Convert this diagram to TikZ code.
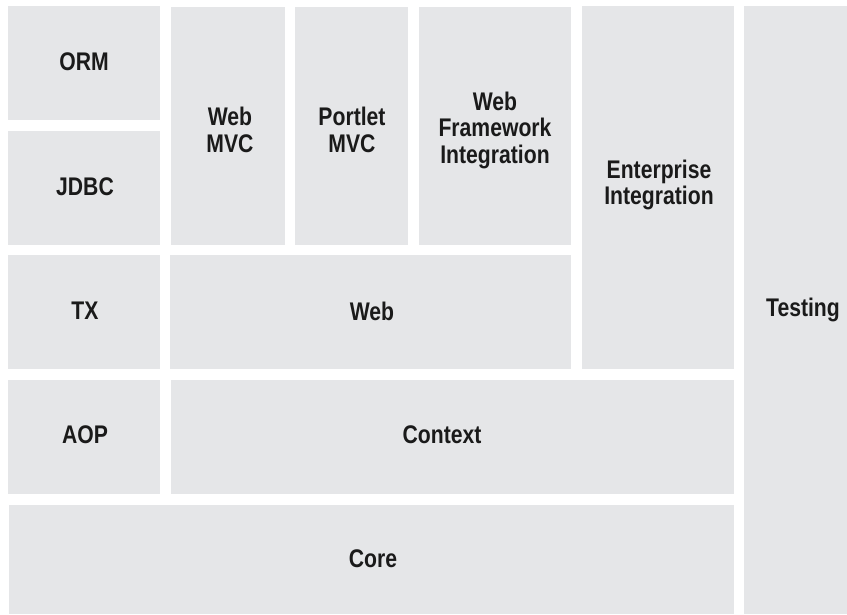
\documentclass[tikz,border=0pt]{standalone}
\usepackage{fontspec}
\setmainfont{Liberation Sans}[FakeStretch=0.83]
\definecolor{boxgray}{HTML}{E5E6E8}
\definecolor{txt}{HTML}{1A1A1A}
\begin{document}
\begin{tikzpicture}[x=1pt,y=-1pt,
  blk/.style={fill=none,draw=none,inner sep=0pt,align=center,text=txt,
    font=\fontsize{25.5}{26.5}\selectfont\bfseries}]
\useasboundingbox (0,0) rectangle (847,614);
\fill[boxgray] (8,6) rectangle (160,120);
\node[blk] (orm) at (84,62) {ORM};
\fill[boxgray] (8,131) rectangle (160,245);
\node[blk] (jdbc) at (85,187) {JDBC};
\fill[boxgray] (8,255) rectangle (160,369);
\node[blk] (tx) at (85,311) {TX};
\fill[boxgray] (8,380) rectangle (160,494);
\node[blk] (aop) at (85,435) {AOP};
\fill[boxgray] (9,505) rectangle (734,614);
\node[blk] (core) at (373,559) {Core};
\fill[boxgray] (171,7) rectangle (285,245);
\node[blk] (webmvc) at (230,130) {Web\\MVC};
\fill[boxgray] (295,7) rectangle (408,245);
\node[blk] (portlet) at (352,130) {Portlet\\MVC};
\fill[boxgray] (419,7) rectangle (571,245);
\node[blk] (wfi) at (495,130) {Web\\Framework\\Integration};
\fill[boxgray] (582,6) rectangle (734,369);
\node[blk] (ei) at (659,185) {Enterprise\\Integration};
\fill[boxgray] (170,255) rectangle (571,369);
\node[blk] (web) at (372,311) {Web};
\fill[boxgray] (171,380) rectangle (734,494);
\node[blk] (context) at (442,435) {Context};
\fill[boxgray] (744,6) rectangle (847,614);
\node[blk] (testing) at (803,310) {Testing};
\end{tikzpicture}
\end{document}
